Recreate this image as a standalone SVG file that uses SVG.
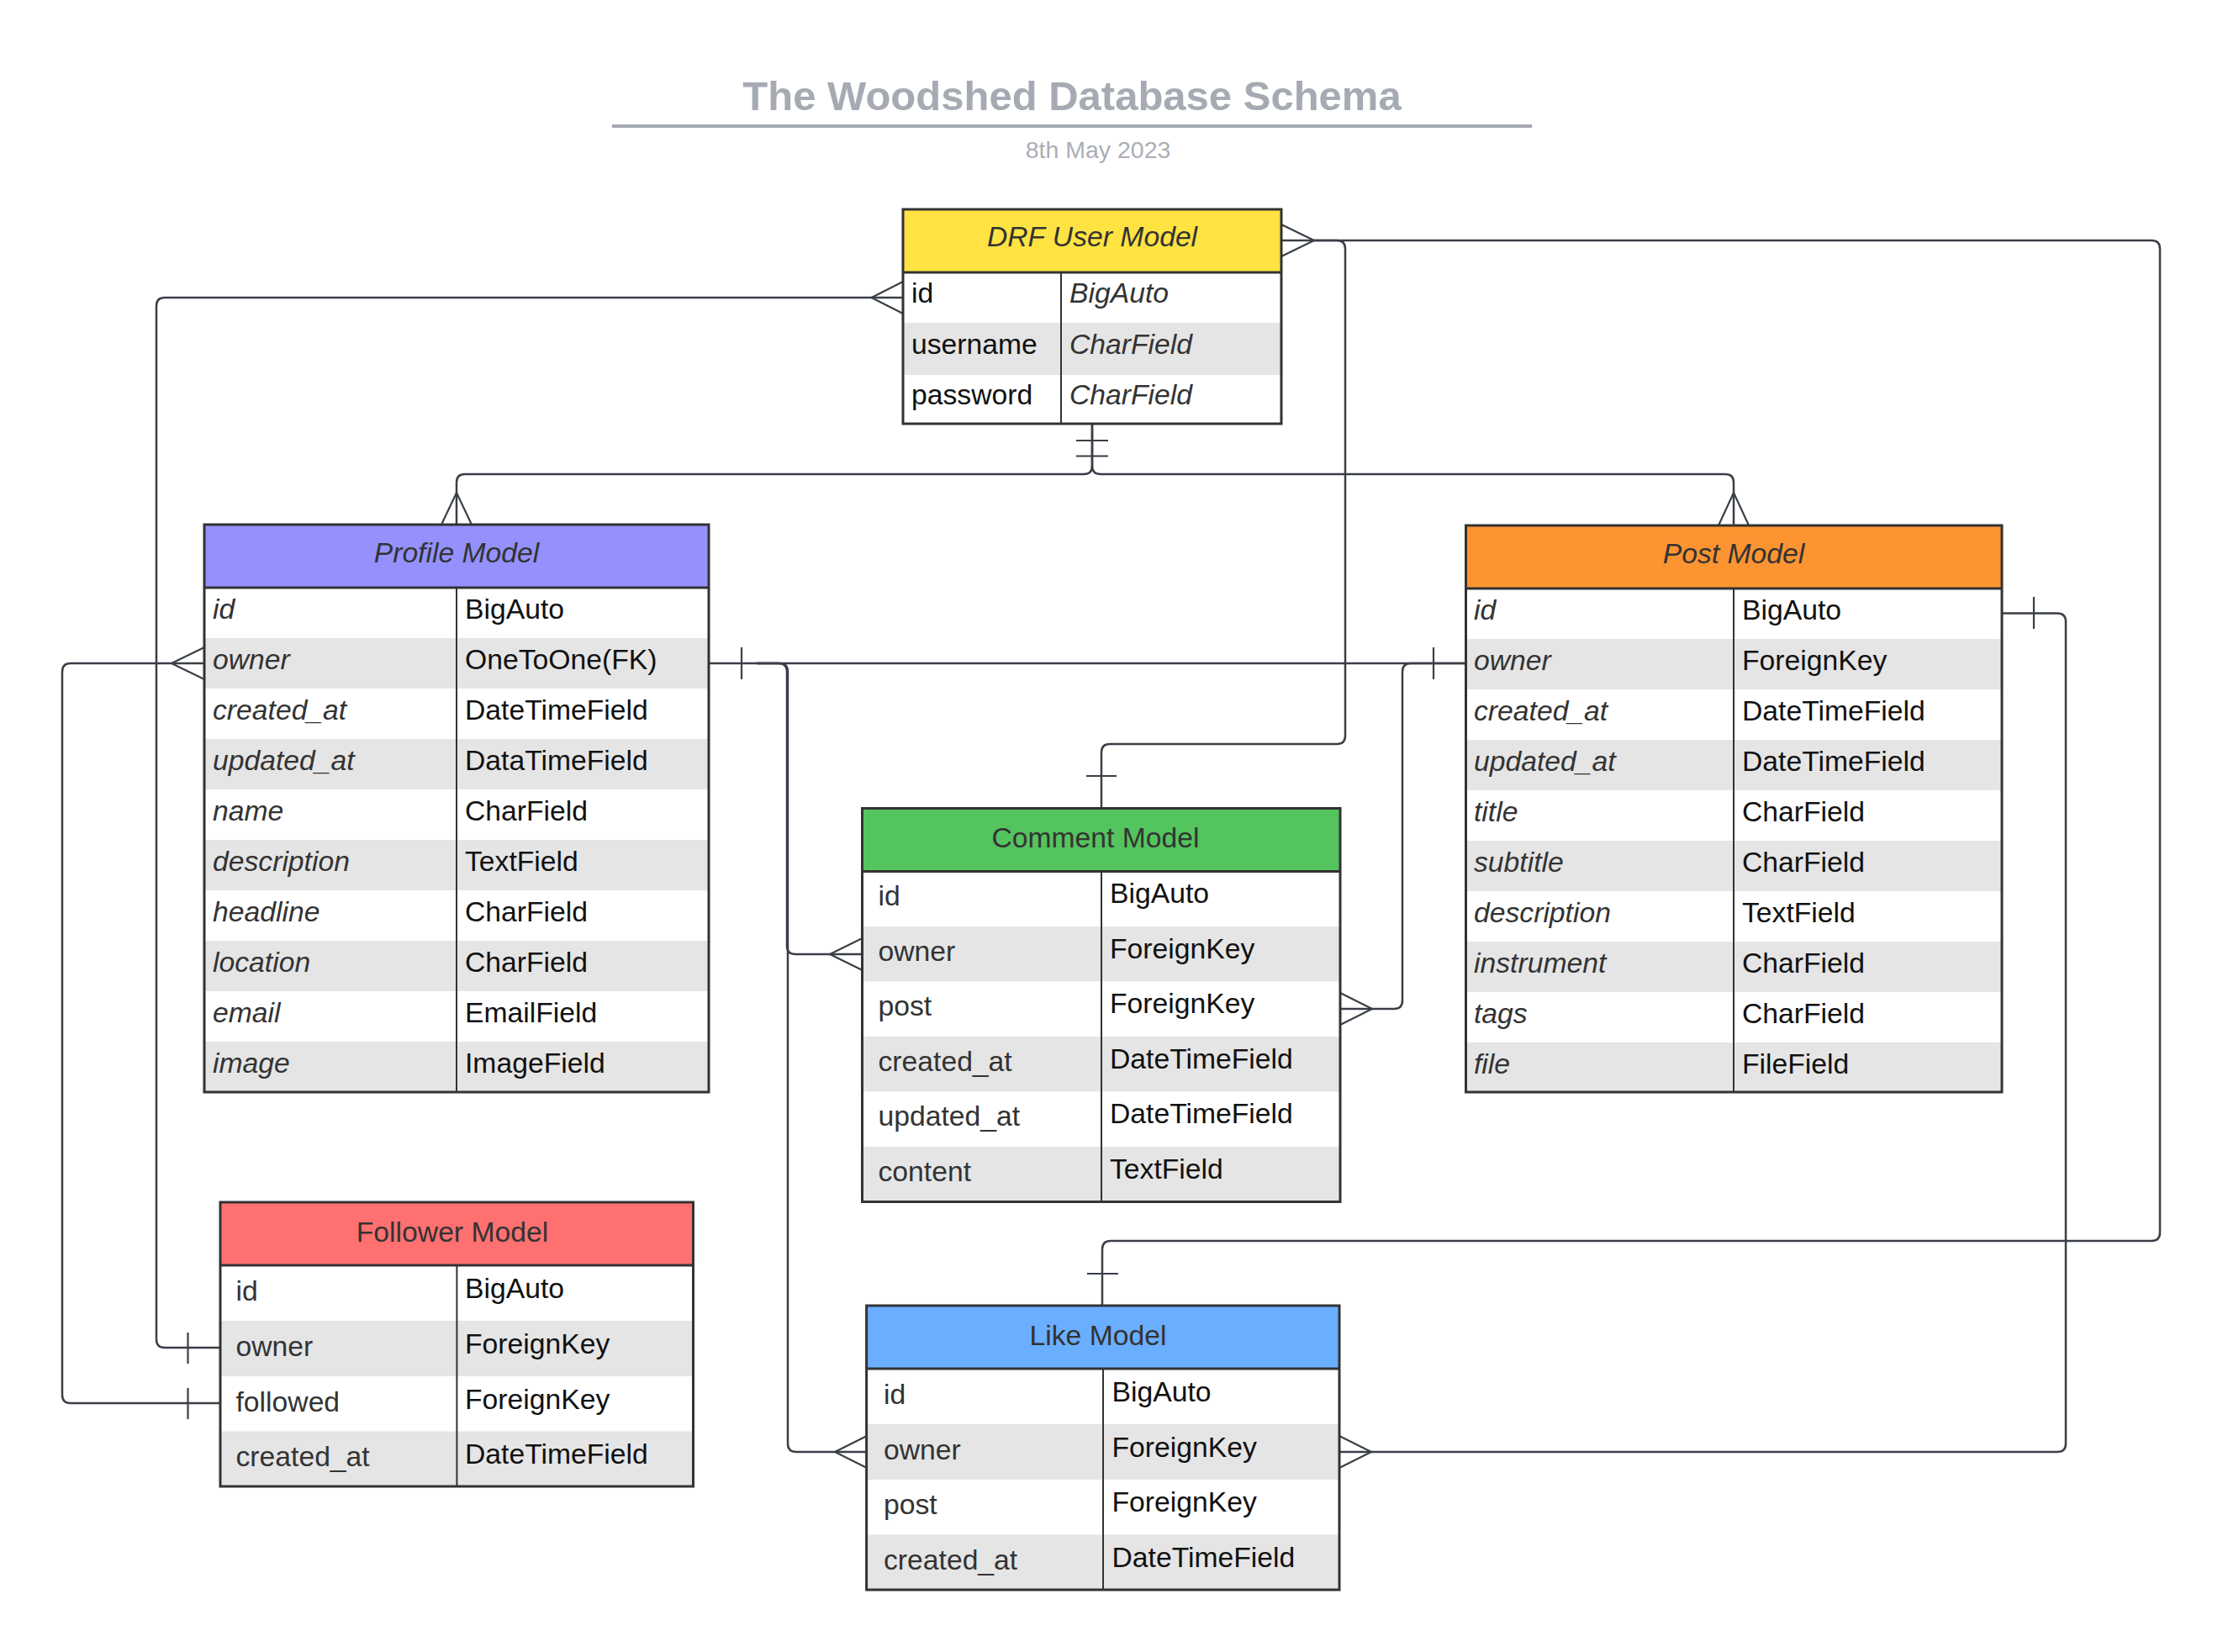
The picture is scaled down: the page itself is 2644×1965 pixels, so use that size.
<svg xmlns="http://www.w3.org/2000/svg" width="2644" height="1965" viewBox="0 0 2644 1965">
<style>
text{font-family:"Liberation Sans",Arial,sans-serif;font-size:33.7px}
.ttl{font-size:49px;font-weight:bold;fill:#a5aab3}
.sub{font-size:28.5px;fill:#a9aeb6}
.hd{fill:#333;text-anchor:middle}
.it{font-style:italic}
.nm{fill:#333}
.vl{fill:#111}
.bd{fill:none;stroke:#333;stroke-width:3}
.dv{stroke:#333;stroke-width:2}
.alt{fill:#e5e5e5}
.wh{fill:#fff}
.cn{fill:none;stroke:#3a3f47;stroke-width:2.5}
.mk{fill:none;stroke:#3a3f47;stroke-width:2.2}
</style>
<rect width="2644" height="1965" fill="#fff"/>
<g id="title">
<text class="ttl" x="1275" y="131" text-anchor="middle">The Woodshed Database Schema</text>
<line x1="728" y1="150" x2="1822" y2="150" stroke="#a5aab3" stroke-width="4"/>
<text class="sub" x="1306" y="188" text-anchor="middle">8th May 2023</text>
</g>
<g id="connectors">
<!-- DRF header -> Like top -->
<path class="cn" d="M1524,286 H2559 Q2569,286 2569,296 V1466 Q2569,1476 2559,1476 H1321 Q1311,1476 1311,1486 V1553"/>
<path class="mk" d="M1524,267 L1563,286 L1524,305"/>
<path class="mk" d="M1293,1515 H1330"/>
<!-- DRF header -> Comment top -->
<path class="cn" d="M1560,286 H1590 Q1600,286 1600,296 V875 Q1600,885 1590,885 H1320 Q1310,885 1310,895 V961"/>
<path class="mk" d="M1292,923 H1328"/>
<!-- DRF id -> Follower owner -->
<path class="cn" d="M1074,354 H196 Q186,354 186,364 V1593 Q186,1603 196,1603 H262"/>
<path class="mk" d="M1074,335 L1036.5,354 L1074,373"/>
<path class="mk" d="M223.5,1585 V1622"/>
<!-- DRF bottom -> Profile / Post -->
<path class="cn" d="M1299,504 V554 Q1299,564 1289,564 H553 Q543,564 543,574 V624"/>
<path class="cn" d="M1299,504 V554 Q1299,564 1309,564 H2052 Q2062,564 2062,574 V625"/>
<path class="mk" d="M1280,524 H1318 M1280,542.5 H1318"/>
<path class="mk" d="M525,624 L543,586 L561,624"/>
<path class="mk" d="M2044,625 L2062,586 L2080,625"/>
<!-- Profile owner -> Follower followed -->
<path class="cn" d="M243,789 H84 Q74,789 74,799 V1659 Q74,1669 84,1669 H262"/>
<path class="mk" d="M243,770 L204,789 L243,808"/>
<path class="mk" d="M223.5,1651 V1688"/>
<!-- Profile owner -> Post owner -->
<path class="cn" d="M843,789 H1743.5"/>
<path class="mk" d="M882,770 V808"/>
<path class="mk" d="M1705,770 V808"/>
<!-- Profile owner -> Comment owner -->
<path class="cn" d="M900,789 H926 Q936,789 936,799 V1125 Q936,1135 946,1135 H1025.5"/>
<path class="mk" d="M1025.5,1116 L987,1135 L1025.5,1154"/>
<!-- Profile owner -> Like owner -->
<path class="cn" d="M900,789 H927 Q937,789 937,799 V1717 Q937,1727 947,1727 H1031"/>
<path class="mk" d="M1031,1708 L993,1727 L1031,1746"/>
<!-- Post owner -> Comment post -->
<path class="cn" d="M1743.5,789 H1678 Q1668,789 1668,799 V1190 Q1668,1200 1658,1200 H1594"/>
<path class="mk" d="M1594,1181 L1632,1200 L1594,1219"/>
<!-- Post id -> Like owner -->
<path class="cn" d="M2381,729.5 H2447 Q2457,729.5 2457,739.5 V1717 Q2457,1727 2447,1727 H1593"/>
<path class="mk" d="M2419,710 V748"/>
<path class="mk" d="M1593,1708 L1631,1727 L1593,1746"/>
</g>
<g id="drf-user">
<rect x="1074" y="249" width="450" height="75" fill="#ffe342"/>
<rect class="wh" x="1074" y="324" width="450" height="60"/>
<rect class="alt" x="1074" y="384" width="450" height="62"/>
<rect class="wh" x="1074" y="446" width="450" height="58"/>
<line class="dv" x1="1262" y1="324" x2="1262" y2="504"/>
<line class="bd" x1="1074" y1="324" x2="1524" y2="324"/>
<rect class="bd" x="1074" y="249" width="450" height="255"/>
<text class="hd it" x="1299" y="293">DRF User Model</text>
<text class="vl" x="1084" y="360">id</text><text class="nm it" x="1272" y="360">BigAuto</text>
<text class="vl" x="1084" y="421">username</text><text class="nm it" x="1272" y="421">CharField</text>
<text class="vl" x="1084" y="481">password</text><text class="nm it" x="1272" y="481">CharField</text>
</g>
<g id="profile">
<rect x="243" y="624" width="600" height="75" fill="#9491fd"/>
<rect class="wh" x="243" y="699" width="600" height="600"/>
<rect class="alt" x="243" y="759" width="600" height="60"/>
<rect class="alt" x="243" y="879" width="600" height="60"/>
<rect class="alt" x="243" y="999" width="600" height="60"/>
<rect class="alt" x="243" y="1119" width="600" height="60"/>
<rect class="alt" x="243" y="1239" width="600" height="60"/>
<line class="dv" x1="543" y1="699" x2="543" y2="1299"/>
<line class="bd" x1="243" y1="699" x2="843" y2="699"/>
<rect class="bd" x="243" y="624" width="600" height="675"/>
<text class="hd it" x="543" y="669">Profile Model</text>
<text class="nm it" x="253" y="736">id</text><text class="vl" x="553" y="736">BigAuto</text>
<text class="nm it" x="253" y="796">owner</text><text class="vl" x="553" y="796">OneToOne(FK)</text>
<text class="nm it" x="253" y="856">created_at</text><text class="vl" x="553" y="856">DateTimeField</text>
<text class="nm it" x="253" y="916">updated_at</text><text class="vl" x="553" y="916">DataTimeField</text>
<text class="nm it" x="253" y="976">name</text><text class="vl" x="553" y="976">CharField</text>
<text class="nm it" x="253" y="1036">description</text><text class="vl" x="553" y="1036">TextField</text>
<text class="nm it" x="253" y="1096">headline</text><text class="vl" x="553" y="1096">CharField</text>
<text class="nm it" x="253" y="1156">location</text><text class="vl" x="553" y="1156">CharField</text>
<text class="nm it" x="253" y="1216">email</text><text class="vl" x="553" y="1216">EmailField</text>
<text class="nm it" x="253" y="1276">image</text><text class="vl" x="553" y="1276">ImageField</text>
</g>
<g id="post">
<rect x="1743.5" y="625" width="637.5" height="75" fill="#fc9432"/>
<rect class="wh" x="1743.5" y="700" width="637.5" height="599"/>
<rect class="alt" x="1743.5" y="760" width="637.5" height="60"/>
<rect class="alt" x="1743.5" y="880" width="637.5" height="60"/>
<rect class="alt" x="1743.5" y="1000" width="637.5" height="60"/>
<rect class="alt" x="1743.5" y="1120" width="637.5" height="60"/>
<rect class="alt" x="1743.5" y="1240" width="637.5" height="59"/>
<line class="dv" x1="2062" y1="700" x2="2062" y2="1299"/>
<line class="bd" x1="1743.5" y1="700" x2="2381" y2="700"/>
<rect class="bd" x="1743.5" y="625" width="637.5" height="674"/>
<text class="hd it" x="2062" y="670">Post Model</text>
<text class="nm it" x="1753" y="737">id</text><text class="vl" x="2072" y="737">BigAuto</text>
<text class="nm it" x="1753" y="797">owner</text><text class="vl" x="2072" y="797">ForeignKey</text>
<text class="nm it" x="1753" y="857">created_at</text><text class="vl" x="2072" y="857">DateTimeField</text>
<text class="nm it" x="1753" y="917">updated_at</text><text class="vl" x="2072" y="917">DateTimeField</text>
<text class="nm it" x="1753" y="977">title</text><text class="vl" x="2072" y="977">CharField</text>
<text class="nm it" x="1753" y="1037">subtitle</text><text class="vl" x="2072" y="1037">CharField</text>
<text class="nm it" x="1753" y="1097">description</text><text class="vl" x="2072" y="1097">TextField</text>
<text class="nm it" x="1753" y="1157">instrument</text><text class="vl" x="2072" y="1157">CharField</text>
<text class="nm it" x="1753" y="1217">tags</text><text class="vl" x="2072" y="1217">CharField</text>
<text class="nm it" x="1753" y="1277">file</text><text class="vl" x="2072" y="1277">FileField</text>
</g>
<g id="comment">
<rect x="1025.5" y="961.5" width="568.5" height="75" fill="#54c45e"/>
<rect class="wh" x="1025.5" y="1036.5" width="568.5" height="393"/>
<rect class="alt" x="1025.5" y="1102" width="568.5" height="65.5"/>
<rect class="alt" x="1025.5" y="1233" width="568.5" height="65.5"/>
<rect class="alt" x="1025.5" y="1364" width="568.5" height="65.5"/>
<line class="dv" x1="1310" y1="1036.5" x2="1310" y2="1429.5"/>
<line class="bd" x1="1025.5" y1="1036.5" x2="1594" y2="1036.5"/>
<rect class="bd" x="1025.5" y="961.5" width="568.5" height="468"/>
<text class="hd" x="1303" y="1008">Comment Model</text>
<text class="nm" x="1044.5" y="1077">id</text><text class="vl" x="1320" y="1074">BigAuto</text>
<text class="nm" x="1044.5" y="1143">owner</text><text class="vl" x="1320" y="1140">ForeignKey</text>
<text class="nm" x="1044.5" y="1208">post</text><text class="vl" x="1320" y="1205">ForeignKey</text>
<text class="nm" x="1044.5" y="1274">created_at</text><text class="vl" x="1320" y="1271">DateTimeField</text>
<text class="nm" x="1044.5" y="1339">updated_at</text><text class="vl" x="1320" y="1336">DateTimeField</text>
<text class="nm" x="1044.5" y="1405">content</text><text class="vl" x="1320" y="1402">TextField</text>
</g>
<g id="follower">
<rect x="262" y="1430" width="562.5" height="75" fill="#ff7070"/>
<rect class="wh" x="262" y="1505" width="562.5" height="263"/>
<rect class="alt" x="262" y="1571" width="562.5" height="66"/>
<rect class="alt" x="262" y="1702.5" width="562.5" height="65.5"/>
<line class="dv" x1="543.4" y1="1505" x2="543.4" y2="1768"/>
<line class="bd" x1="262" y1="1505" x2="824.5" y2="1505"/>
<rect class="bd" x="262" y="1430" width="562.5" height="338"/>
<text class="hd" x="538" y="1477">Follower Model</text>
<text class="nm" x="280.5" y="1547">id</text><text class="vl" x="553" y="1544">BigAuto</text>
<text class="nm" x="280.5" y="1613">owner</text><text class="vl" x="553" y="1610">ForeignKey</text>
<text class="nm" x="280.5" y="1679">followed</text><text class="vl" x="553" y="1676">ForeignKey</text>
<text class="nm" x="280.5" y="1744">created_at</text><text class="vl" x="553" y="1741">DateTimeField</text>
</g>
<g id="like">
<rect x="1030.6" y="1553" width="562.4" height="75" fill="#6aaeff"/>
<rect class="wh" x="1030.6" y="1628" width="562.4" height="263"/>
<rect class="alt" x="1030.6" y="1694" width="562.4" height="66"/>
<rect class="alt" x="1030.6" y="1825.5" width="562.4" height="65.5"/>
<line class="dv" x1="1312" y1="1628" x2="1312" y2="1891"/>
<line class="bd" x1="1030.6" y1="1628" x2="1593" y2="1628"/>
<rect class="bd" x="1030.6" y="1553" width="562.4" height="338"/>
<text class="hd" x="1306" y="1600">Like Model</text>
<text class="nm" x="1051" y="1670">id</text><text class="vl" x="1322.5" y="1667">BigAuto</text>
<text class="nm" x="1051" y="1736">owner</text><text class="vl" x="1322.5" y="1733">ForeignKey</text>
<text class="nm" x="1051" y="1801">post</text><text class="vl" x="1322.5" y="1798">ForeignKey</text>
<text class="nm" x="1051" y="1867">created_at</text><text class="vl" x="1322.5" y="1864">DateTimeField</text>
</g>
</svg>
